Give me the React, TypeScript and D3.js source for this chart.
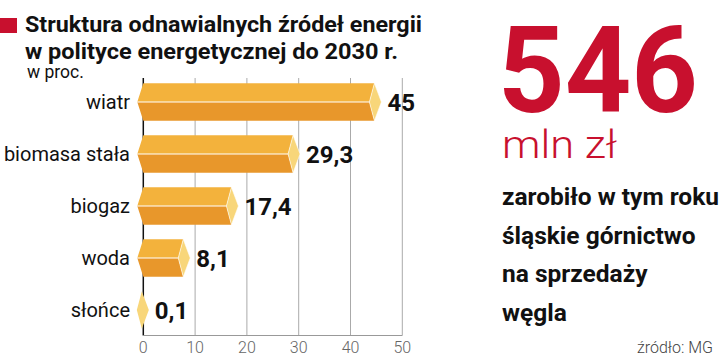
import React from "react";
import * as d3 from "d3";

const categories = ["wiatr", "biomasa stała", "biogaz", "woda", "słońce"];
const values = [45, 29.3, 17.4, 8.1, 0.1];
const valueLabels = ["45", "29,3", "17,4", "8,1", "0,1"];
const ticks = [0, 10, 20, 30, 40, 50];
const titleLines = ["Struktura odnawialnych źródeł energii", "w polityce energetycznej do 2030 r."];
const unitLabel = "w proc.";
const bigNumber = "546";
const bigUnit = "mln zł";
const sideLines = ["zarobiło w tym roku", "śląskie górnictwo", "na sprzedaży", "węgla"];
const sourceLabel = "źródło: MG";

const RED = "#c8102e";
const TOP = "#f3b23c";
const BOTTOM = "#e8972b";
const FACE = "#f8d67a";
const FONT = "Roboto, 'Noto Sans', sans-serif";

export default function App() {
  const x = d3.scaleLinear().domain([0, 50]).range([143.3, 402.3]);
  const y = d3.scaleBand().domain(categories).range([76, 336]).paddingInner(0.28).paddingOuter(0.14);
  const x0 = x(0);
  const gridTop = 78;
  const axisY = 335.5;

  return (
    <div style={{ position: "absolute", left: 0, top: 0 }}>
      <svg width={720} height={357} style={{ display: "block", fontFamily: FONT }}>
        <rect width={720} height={357} fill="#fff" />
        {/* title */}
        <rect x={0} y={18} width={17} height={15} fill={RED} />
        <text x={25} y={32} fontSize={21.5} fontWeight={700} fill="#111" textLength={397} lengthAdjust="spacingAndGlyphs">{titleLines[0]}</text>
        <text x={25} y={59} fontSize={21.5} fontWeight={700} fill="#111" textLength={373} lengthAdjust="spacingAndGlyphs">{titleLines[1]}</text>
        <text x={27} y={78} fontSize={17.5} fill="#111">{unitLabel}</text>

        {/* grid */}
        {ticks.filter((t) => t > 0).map((t) => (
          <line key={t} x1={x(t)} x2={x(t)} y1={gridTop} y2={axisY} stroke="#aaa" strokeWidth={1} />
        ))}
        <line x1={x0} x2={x0} y1={gridTop} y2={axisY} stroke="#111" strokeWidth={1.5} />
        <line x1={x0} x2={x(50)} y1={axisY} y2={axisY} stroke="#999" strokeWidth={1} />
        {ticks.map((t) => (
          <text key={t} x={x(t)} y={353} fontSize={16} fontWeight={300} fill="#666" textAnchor="middle">{t}</text>
        ))}

        {/* bars */}
        {categories.map((c, i) => {
          const top = y(c)!;
          const bh = y.bandwidth();
          const bot = top + bh;
          const mid = top + bh / 2;
          const xv = x(values[i]);
          const showBody = xv - 6 > x0;
          const topFace = `M${x0},${top} L${xv - 2},${top} L${xv - 7},${mid} L${x0 - 6},${mid} Z`;
          const botFace = `M${x0 - 6},${mid} L${xv - 7},${mid} L${xv - 2},${bot} L${x0},${bot} Z`;
          const endFace = `M${xv - 2},${top} L${xv + 5},${mid} L${xv - 2},${bot} L${xv - 7},${mid} Z`;
          return (
            <g key={c}>
              {showBody && <path d={topFace} fill={TOP} />}
              {showBody && <path d={botFace} fill={BOTTOM} />}
              {showBody && <line x1={x0 - 6} x2={xv - 7} y1={mid} y2={mid} stroke="#fff" strokeWidth={1.2} />}
              <path d={endFace} fill={FACE} stroke={showBody ? "#fff" : "none"} strokeWidth={0.6} />
              <text x={130} y={mid + 7} fontSize={20} fill="#111" textAnchor="end">{c}</text>
              <text x={xv + 11} y={mid + 8.5} fontSize={24} fontWeight={700} fill="#111">{valueLabels[i]}</text>
            </g>
          );
        })}

        {/* right panel */}
        <text x={498} y={112} fontSize={120} fontWeight={700} fill={RED} textLength={200} lengthAdjust="spacingAndGlyphs">{bigNumber}</text>
        <text x={502} y={158} fontSize={38} fontWeight={300} fill={RED} textLength={115} lengthAdjust="spacingAndGlyphs">{bigUnit}</text>
        {sideLines.map((l, i) => (
          <text key={i} x={502} y={205 + i * 38.5} fontSize={24.5} fontWeight={700} fill="#111">{l}</text>
        ))}
        <text x={713} y={353} fontSize={16} fontWeight={300} fill="#444" textAnchor="end">{sourceLabel}</text>
      </svg>
    </div>
  );
}
